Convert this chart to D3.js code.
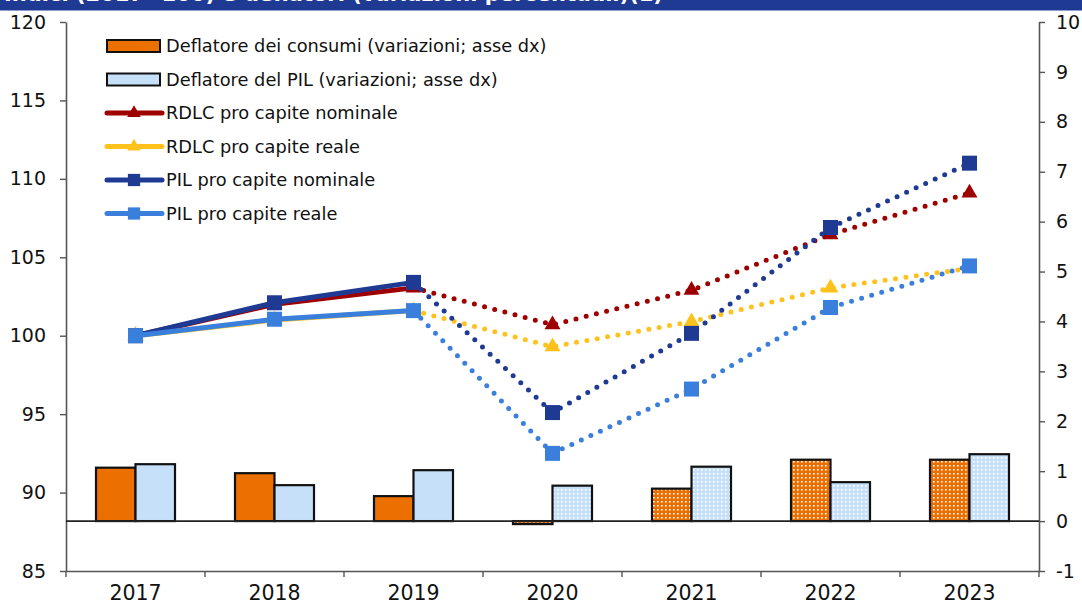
<!DOCTYPE html>
<html>
<head>
<meta charset="utf-8">
<script src="https://cdn.jsdelivr.net/npm/d3@7"></script>
<style>
  body { margin: 0; background: #fff; }
  svg { display: block; font-family: "DejaVu Sans", sans-serif; }
</style>
</head>
<body>
<div id="chart"></div>
<script>
const years = ['2017', '2018', '2019', '2020', '2021', '2022', '2023'];
const deflConsumi = [1.07, 0.96, 0.50, -0.06, 0.65, 1.23, 1.23];
const deflPil = [1.14, 0.72, 1.02, 0.71, 1.09, 0.78, 1.34];
const rdlcNominale = [100, 102.0, 103.05, 100.7, 102.9, 106.45, 109.1];
const rdlcReale = [100, 101.0, 101.6, 99.3, 100.9, 103.05, 104.3];
const pilNominale = [100, 102.1, 103.4, 95.1, 100.15, 106.9, 111.0];
const pilReale = [100, 101.05, 101.6, 92.5, 96.6, 101.8, 104.45];
const leftTicks = [85, 90, 95, 100, 105, 110, 115, 120];
const rightTicks = [-1, 0, 1, 2, 3, 4, 5, 6, 7, 8, 9, 10];
const forecastFrom = 2; // index of 2019: dotted from here on
const patternFrom = 3; // bars from 2020 are dotted

const width = 1082;
const height = 606;
const margin = { top: 22, right: 43, bottom: 35, left: 66 };
const barWidth = 39.5;

const colors = {
  orange: '#ec7000',
  paleBlue: '#c6e0fa',
  red: '#9e0000',
  yellow: '#ffc21c',
  navy: '#1f3a93',
  blue: '#3a7fdc'
};

const svg = d3.select('#chart').append('svg')
  .attr('width', width)
  .attr('height', height);

// header band, mostly cut off at the top edge
svg.append('rect')
  .attr('x', 0).attr('y', 0)
  .attr('width', width).attr('height', 10.5)
  .attr('fill', colors.navy);
svg.append('text')
  .attr('x', 4).attr('y', 1)
  .attr('fill', '#fff')
  .attr('font-size', 21)
  .attr('font-weight', 'bold')
  .text('Indici (2017=100) e deflatori (variazioni percentuali)(1)');

const defs = svg.append('defs');
function dotPattern(id, bg) {
  const p = defs.append('pattern')
    .attr('id', id)
    .attr('patternUnits', 'userSpaceOnUse')
    .attr('width', 4).attr('height', 4);
  p.append('rect').attr('width', 4).attr('height', 4).attr('fill', bg);
  p.append('rect').attr('x', 1).attr('y', 1).attr('width', 1.6).attr('height', 1.6).attr('fill', '#fff');
}
dotPattern('dots-orange', colors.orange);
dotPattern('dots-pale', colors.paleBlue);

const x = d3.scaleBand()
  .domain(years)
  .range([margin.left, width - margin.right]);
const yL = d3.scaleLinear()
  .domain([85, 120])
  .range([height - margin.bottom, margin.top]);
const yR = d3.scaleLinear()
  .domain([-1, 10])
  .range([height - margin.bottom, margin.top]);
const cx = d => x(d) + x.bandwidth() / 2;

// axes
const axisStyle = size => g => {
  g.select('.domain').attr('stroke', '#555').attr('stroke-width', 1.6);
  g.selectAll('.tick line').attr('stroke', '#555').attr('stroke-width', 1.4);
  g.selectAll('.tick text').attr('fill', '#111').attr('font-size', size)
    .attr('font-family', '"DejaVu Sans", sans-serif');
};

svg.append('g')
  .attr('transform', `translate(${margin.left},0)`)
  .call(d3.axisLeft(yL).tickValues(leftTicks).tickFormat(d => String(d))
    .tickSize(6).tickSizeOuter(0).tickPadding(14))
  .call(axisStyle(19));

svg.append('g')
  .attr('transform', `translate(${width - margin.right},0)`)
  .call(d3.axisRight(yR).tickValues(rightTicks).tickFormat(d => String(d))
    .tickSize(6).tickSizeOuter(0).tickPadding(11))
  .call(axisStyle(19));

svg.append('g')
  .attr('transform', `translate(0,${height - margin.bottom})`)
  .call(d3.axisBottom(x).tickSize(0).tickPadding(14))
  .call(axisStyle(20.5));

// category boundary ticks
const edges = years.map(d => x(d)).concat([x(years[years.length - 1]) + x.bandwidth()]);
svg.append('g').selectAll('line')
  .data(edges).enter()
  .append('line')
  .attr('x1', d => d).attr('x2', d => d)
  .attr('y1', height - margin.bottom)
  .attr('y2', height - margin.bottom + 6)
  .attr('stroke', '#555')
  .attr('stroke-width', 1.4);

// bars
const barSeries = [
  { values: deflConsumi, color: colors.orange, pattern: 'url(#dots-orange)', offset: -barWidth },
  { values: deflPil, color: colors.paleBlue, pattern: 'url(#dots-pale)', offset: 0 }
];
barSeries.forEach(s => {
  svg.append('g').selectAll('rect')
    .data(s.values).enter()
    .append('rect')
    .attr('x', (d, i) => cx(years[i]) + s.offset)
    .attr('width', barWidth)
    .attr('y', d => yR(Math.max(0, d)))
    .attr('height', d => Math.abs(yR(d) - yR(0)))
    .attr('fill', (d, i) => i >= patternFrom ? s.pattern : s.color)
    .attr('stroke', '#111')
    .attr('stroke-width', 2.2);
});

// zero line for the bars
svg.append('line')
  .attr('x1', margin.left).attr('x2', width - margin.right)
  .attr('y1', yR(0)).attr('y2', yR(0))
  .attr('stroke', '#222')
  .attr('stroke-width', 1.6);

// lines
const lineSeries = [
  { name: 'RDLC pro capite nominale', values: rdlcNominale, color: colors.red, symbol: d3.symbolTriangle },
  { name: 'RDLC pro capite reale', values: rdlcReale, color: colors.yellow, symbol: d3.symbolTriangle },
  { name: 'PIL pro capite nominale', values: pilNominale, color: colors.navy, symbol: d3.symbolSquare },
  { name: 'PIL pro capite reale', values: pilReale, color: colors.blue, symbol: d3.symbolSquare }
];

const line = d3.line()
  .x(d => cx(d.year))
  .y(d => yL(d.value));

lineSeries.forEach(s => {
  const pts = s.values.map((v, i) => ({ year: years[i], value: v }));
  const g = svg.append('g');
  g.append('path')
    .datum(pts.slice(0, forecastFrom + 1))
    .attr('fill', 'none')
    .attr('stroke', s.color)
    .attr('stroke-width', 5)
    .attr('stroke-linejoin', 'round')
    .attr('d', line);
  g.append('path')
    .datum(pts.slice(forecastFrom))
    .attr('fill', 'none')
    .attr('stroke', s.color)
    .attr('stroke-width', 5)
    .attr('stroke-linecap', 'round')
    .attr('stroke-dasharray', '0 10.5')
    .attr('d', line);
  g.selectAll('.marker')
    .data(pts).enter()
    .append('path')
    .attr('class', 'marker')
    .attr('transform', d => `translate(${cx(d.year)},${yL(d.value)})`)
    .attr('d', d3.symbol(s.symbol, s.symbol === d3.symbolSquare ? 225 : 110))
    .attr('fill', s.color);
});

// legend
const legendX = 107;
const legendY = 46;
const rowGap = 33.5;
const legendItems = [
  { name: 'Deflatore dei consumi (variazioni; asse dx)', type: 'bar', color: colors.orange },
  { name: 'Deflatore del PIL (variazioni; asse dx)', type: 'bar', color: colors.paleBlue }
].concat(lineSeries.map(s => ({ name: s.name, type: 'line', color: s.color, symbol: s.symbol })));

const legend = svg.append('g');
legendItems.forEach((item, i) => {
  const y = legendY + i * rowGap;
  if (item.type === 'bar') {
    legend.append('rect')
      .attr('x', legendX).attr('y', y - 6)
      .attr('width', 53).attr('height', 12)
      .attr('fill', item.color)
      .attr('stroke', '#111')
      .attr('stroke-width', 2);
  } else {
    legend.append('line')
      .attr('x1', legendX).attr('x2', legendX + 55)
      .attr('y1', y).attr('y2', y)
      .attr('stroke', item.color)
      .attr('stroke-width', 5)
      .attr('stroke-linecap', 'round');
    legend.append('path')
      .attr('transform', `translate(${legendX + 27},${y})`)
      .attr('d', d3.symbol(item.symbol, item.symbol === d3.symbolSquare ? 150 : 80))
      .attr('fill', item.color);
  }
  legend.append('text')
    .attr('x', legendX + 59)
    .attr('y', y)
    .attr('dy', '0.35em')
    .attr('font-size', 17.8)
    .attr('fill', '#111')
    .text(item.name);
});
</script>
</body>
</html>
